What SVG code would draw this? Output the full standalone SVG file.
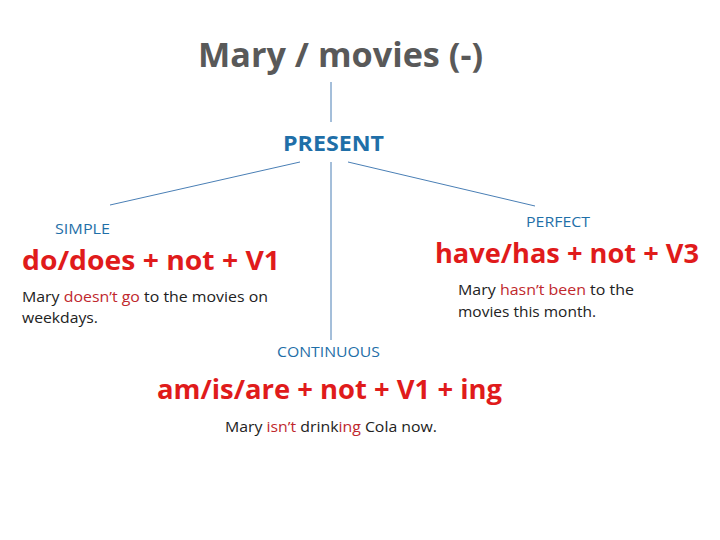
<svg xmlns="http://www.w3.org/2000/svg" width="720" height="540" viewBox="0 0 720 540">
<style>
text{font-family:"Open Sans","Liberation Sans",sans-serif}
.title{font-size:34px;font-weight:bold;fill:#595959}
.head{font-weight:bold;fill:#1F6FA8}
.label{font-size:14px;fill:#1F6FA8}
.formula{font-size:26px;font-weight:bold;fill:#E01B1B}
.sent{font-size:15px;fill:#222}
.neg{fill:#C0282D}
.conn line{stroke:#4A7FB5;stroke-width:1}
</style>
<rect width="720" height="540" fill="#fff"/>
<g class="conn" id="connectors">
<line x1="331" y1="82" x2="331" y2="122"/>
<line x1="300" y1="162" x2="110" y2="205"/>
<line x1="348" y1="162" x2="535" y2="206"/>
<line x1="331" y1="162" x2="331" y2="340"/>
</g>
<g id="title"><text class="title" x="198" y="67" textLength="285" lengthAdjust="spacingAndGlyphs">Mary / movies (-)</text></g>
<g id="present"><text class="head" x="283" y="151" font-size="22" textLength="101" lengthAdjust="spacingAndGlyphs">PRESENT</text></g>
<g id="simple">
<text class="label" x="55" y="234" textLength="55" lengthAdjust="spacingAndGlyphs">SIMPLE</text>
<text class="formula" x="22" y="270" textLength="258" lengthAdjust="spacingAndGlyphs">do/does  + not + V1</text>
<text class="sent" x="22" y="302" textLength="246" lengthAdjust="spacingAndGlyphs">Mary <tspan class="neg">doesn’t go</tspan> to the movies on</text>
<text class="sent" x="22" y="323" textLength="76" lengthAdjust="spacingAndGlyphs">weekdays.</text>
</g>
<g id="perfect">
<text class="label" x="526" y="227" textLength="64" lengthAdjust="spacingAndGlyphs">PERFECT</text>
<text class="formula" x="435" y="263" textLength="264" lengthAdjust="spacingAndGlyphs">have/has + not + V3</text>
<text class="sent" x="458" y="295" textLength="176" lengthAdjust="spacingAndGlyphs">Mary <tspan class="neg">hasn’t been</tspan> to the</text>
<text class="sent" x="458" y="317" textLength="138" lengthAdjust="spacingAndGlyphs">movies this month.</text>
</g>
<g id="continuous">
<text class="label" x="277" y="357" textLength="103" lengthAdjust="spacingAndGlyphs">CONTINUOUS</text>
<text class="formula" x="157" y="399" textLength="345" lengthAdjust="spacingAndGlyphs">am/is/are + not + V1 + ing</text>
<text class="sent" x="225" y="432" textLength="212" lengthAdjust="spacingAndGlyphs">Mary <tspan class="neg">isn’t</tspan> drink<tspan class="neg">ing</tspan> Cola now.</text>
</g>
</svg>
